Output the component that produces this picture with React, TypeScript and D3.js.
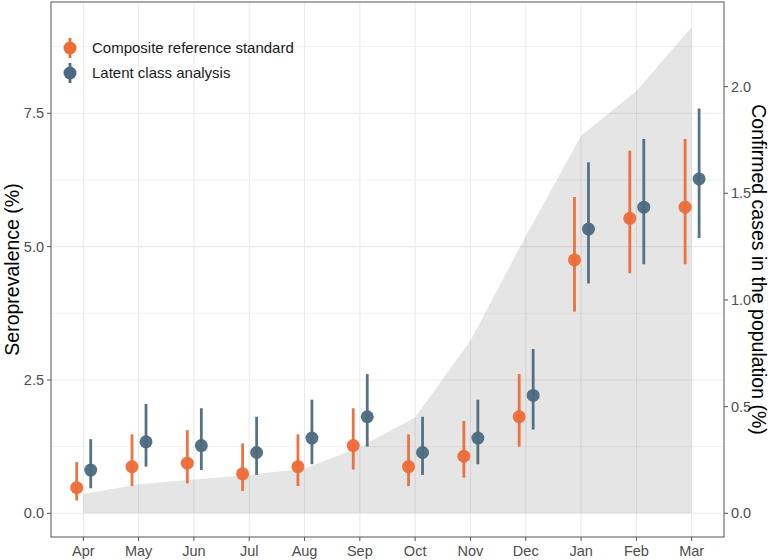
import React from 'react';
import * as d3 from 'd3';

const months = ['Apr', 'May', 'Jun', 'Jul', 'Aug', 'Sep', 'Oct', 'Nov', 'Dec', 'Jan', 'Feb', 'Mar'];
const crsEst = [0.48, 0.875, 0.94, 0.74, 0.875, 1.27, 0.875, 1.07, 1.81, 4.75, 5.53, 5.74];
const crsLow = [0.24, 0.51, 0.56, 0.42, 0.51, 0.82, 0.51, 0.67, 1.25, 3.78, 4.5, 4.67];
const crsHigh = [0.96, 1.48, 1.56, 1.31, 1.48, 1.97, 1.48, 1.73, 2.61, 5.93, 6.8, 7.02];
const lcaEst = [0.81, 1.34, 1.27, 1.14, 1.41, 1.81, 1.14, 1.41, 2.21, 5.33, 5.74, 6.27];
const lcaLow = [0.47, 0.875, 0.81, 0.72, 0.92, 1.25, 0.72, 0.92, 1.57, 4.31, 4.67, 5.16];
const lcaHigh = [1.39, 2.05, 1.97, 1.81, 2.13, 2.61, 1.81, 2.13, 3.08, 6.58, 7.02, 7.59];
const cases = [0.09, 0.136, 0.159, 0.18, 0.21, 0.31, 0.45, 0.81, 1.3, 1.77, 1.98, 2.28];
const leftTicks = [0, 2.5, 5, 7.5];
const leftMinor = [1.25, 3.75, 6.25, 8.75];
const rightTicks = [0, 0.5, 1, 1.5, 2];
const seriesNames = ['Composite reference standard', 'Latent class analysis'];

const W = 771, H = 560;
const P = { left: 51, right: 724, top: 2, bottom: 537 };
const ORANGE = '#EE6A37';
const BLUE = '#4C6A7F';
const FONT = 'Liberation Sans, Arial, Helvetica, sans-serif';

export default function App() {
  const x = d3.scalePoint<string>().domain(months).range([83.3, 691.7]);
  const y = d3.scaleLinear().domain([0, 7.5]).range([513.3, 113.3]);
  const yR = d3.scaleLinear().domain([0, 1.875]).range([513.3, 113.3]);

  const area = d3.area<number>()
    .x((_, i) => x(months[i])!)
    .y0(yR(0))
    .y1((d) => yR(d));

  const series = [
    { est: crsEst, low: crsLow, high: crsHigh, color: ORANGE, dx: -6.6 },
    { est: lcaEst, low: lcaLow, high: lcaHigh, color: BLUE, dx: 7.4 },
  ];

  const r = 6.5;
  const sw = 2.8;

  return (
    <svg width={W} height={H} style={{ position: 'absolute', left: 0, top: 0, background: '#fff' }} fontFamily={FONT}>
      <rect x={0} y={0} width={W} height={H} fill="#fff" />
      {/* grid */}
      {leftMinor.map((t) => (
        <line key={'mn' + t} x1={P.left} x2={P.right} y1={y(t)} y2={y(t)} stroke="#EBEBEB" strokeWidth={0.6} />
      ))}
      {leftTicks.map((t) => (
        <line key={'mj' + t} x1={P.left} x2={P.right} y1={y(t)} y2={y(t)} stroke="#EBEBEB" strokeWidth={1.1} />
      ))}
      {months.map((m) => (
        <line key={'v' + m} x1={x(m)} x2={x(m)} y1={P.top} y2={P.bottom} stroke="#EBEBEB" strokeWidth={1.1} />
      ))}
      {/* area */}
      <path d={area(cases) || ''} fill="#000" fillOpacity={0.1} />
      {/* series */}
      {series.map((s, si) => (
        <g key={si}>
          {months.map((m, i) => (
            <g key={m}>
              <line x1={x(m)! + s.dx} x2={x(m)! + s.dx} y1={y(s.low[i])} y2={y(s.high[i])} stroke={s.color} strokeWidth={sw} strokeOpacity={0.95} />
              <circle cx={x(m)! + s.dx} cy={y(s.est[i])} r={r} fill={s.color} fillOpacity={0.95} />
            </g>
          ))}
        </g>
      ))}
      {/* border */}
      <rect x={P.left} y={P.top} width={P.right - P.left} height={P.bottom - P.top} fill="none" stroke="#555" strokeWidth={1} />
      {/* left axis */}
      {leftTicks.map((t) => (
        <g key={'lt' + t}>
          <line x1={P.left - 4} x2={P.left} y1={y(t)} y2={y(t)} stroke="#555" strokeWidth={1} />
          <text x={P.left - 7} y={y(t)} dy="0.35em" textAnchor="end" fontSize={14.5} fill="#4D4D4D">{d3.format('.1f')(t)}</text>
        </g>
      ))}
      {/* right axis */}
      {rightTicks.map((t) => (
        <g key={'rt' + t}>
          <line x1={P.right} x2={P.right + 4} y1={yR(t)} y2={yR(t)} stroke="#555" strokeWidth={1} />
          <text x={P.right + 7} y={yR(t)} dy="0.35em" textAnchor="start" fontSize={14.5} fill="#4D4D4D">{d3.format('.1f')(t)}</text>
        </g>
      ))}
      {/* bottom axis */}
      {months.map((m) => (
        <g key={'bt' + m}>
          <line x1={x(m)} x2={x(m)} y1={P.bottom} y2={P.bottom + 4} stroke="#555" strokeWidth={1} />
          <text x={x(m)} y={P.bottom + 19} textAnchor="middle" fontSize={14.5} fill="#4D4D4D">{m}</text>
        </g>
      ))}
      {/* titles */}
      <text transform={`translate(12,${(P.top + P.bottom) / 2}) rotate(-90)`} textAnchor="middle" fontSize={19.5} fill="#000" dy="0.35em">Seroprevalence (%)</text>
      <text transform={`translate(759,${(P.top + P.bottom) / 2}) rotate(90)`} textAnchor="middle" fontSize={19.5} fill="#000" dy="0.35em">Confirmed cases in the population (%)</text>
      {/* legend */}
      {series.map((s, i) => (
        <g key={'lg' + i} transform={`translate(70,${48 + i * 25})`}>
          <line x1={0} x2={0} y1={-10} y2={10} stroke={s.color} strokeWidth={sw} />
          <circle cx={0} cy={0} r={r} fill={s.color} />
          <text x={22} y={0} dy="0.35em" fontSize={15} fill="#1A1A1A">{seriesNames[i]}</text>
        </g>
      ))}
    </svg>
  );
}
